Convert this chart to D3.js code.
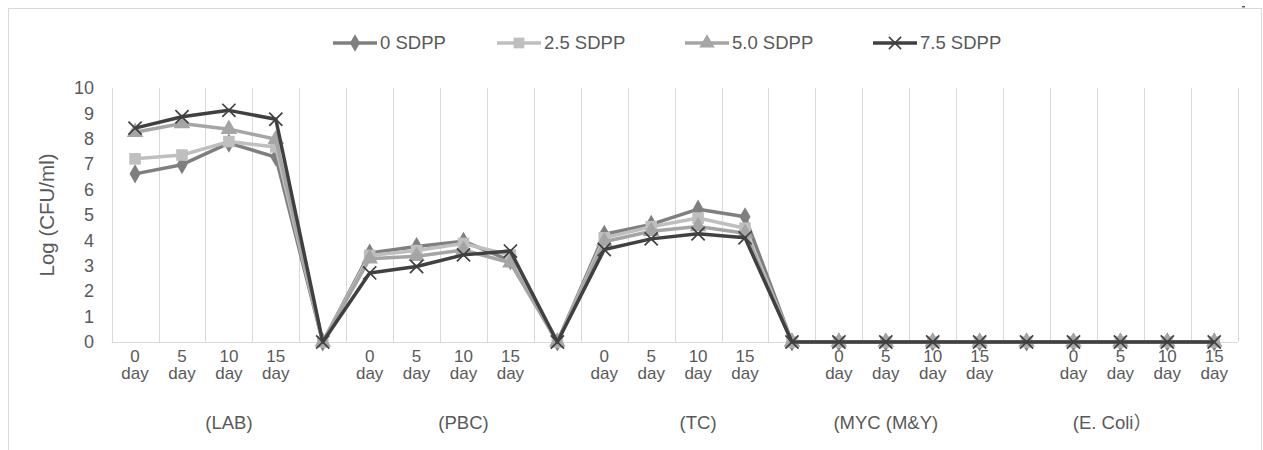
<!DOCTYPE html>
<html><head><meta charset="utf-8">
<script src="https://cdn.jsdelivr.net/npm/d3@7"></script>
<style>
html,body{margin:0;padding:0;background:#fff;}
text{font-family:"Liberation Sans",Arial,"Noto Sans CJK SC",sans-serif;fill:#595959;}
</style></head>
<body><svg id="c" width="1263" height="450"></svg>
<script>
// ---- data ----
const categories = ["0 day","5 day","10 day","15 day","",
                    "0 day","5 day","10 day","15 day","",
                    "0 day","5 day","10 day","15 day","",
                    "0 day","5 day","10 day","15 day","",
                    "0 day","5 day","10 day","15 day"];
const groupLabels = ["(LAB)","(PBC)","(TC)","(MYC (M&Y)","(E. Coli\uFF09"];
const groupFirstCat = [0,5,10,14,19];
const groupLastCat  = [4,9,14,18,23];
const seriesNames = ["0 SDPP","2.5 SDPP","5.0 SDPP","7.5 SDPP"];
const sdpp0  = [6.62,6.98,7.83,7.28,0, 3.50,3.76,3.97,3.20,0, 4.24,4.63,5.23,4.93,0, 0,0,0,0,0, 0,0,0,0];
const sdpp25 = [7.21,7.36,7.89,7.68,0, 3.41,3.60,3.88,3.42,0, 4.10,4.54,4.88,4.48,0, 0,0,0,0,0, 0,0,0,0];
const sdpp50 = [8.26,8.60,8.38,7.98,0, 3.28,3.38,3.62,3.12,0, 3.95,4.36,4.55,4.28,0, 0,0,0,0,0, 0,0,0,0];
const sdpp75 = [8.42,8.87,9.12,8.77,0, 2.72,2.97,3.43,3.58,0, 3.64,4.06,4.26,4.10,0, 0,0,0,0,0, 0,0,0,0];
const yTicks = [0,1,2,3,4,5,6,7,8,9,10];
const yTitle = "Log (CFU/ml)";

// ---- drawing ----
const svg = d3.select("#c");
const colors = ["#7f7f7f","#bfbfbf","#a5a5a5","#404040"];
const symbols = [d3.symbolDiamond, d3.symbolSquare, d3.symbolTriangle, d3.symbolX];
const symSizes = [105, 135, 120, 115];
const allSeries = [sdpp0, sdpp25, sdpp50, sdpp75];

// outer border
svg.append("rect").attr("x",8.5).attr("y",8.5).attr("width",1253).attr("height",460)
  .attr("fill","none").attr("stroke","#d9d9d9").attr("stroke-width",1);
svg.append("rect").attr("x",1242).attr("y",6).attr("width",3).attr("height",1.5).attr("fill","#595959");

const x = d3.scaleBand().domain(d3.range(categories.length)).range([111.6, 1237.7]).padding(0);
const y = d3.scaleLinear().domain([0,10]).range([342, 88]);
const cx = i => x(i) + x.bandwidth()/2;

// vertical gridlines at category boundaries
const g = svg.append("g");
g.selectAll("line.vg").data(d3.range(categories.length+1)).join("line")
  .attr("x1", i => Math.round(i < categories.length ? x(i) : x.range()[1]) + 0.5)
  .attr("x2", i => Math.round(i < categories.length ? x(i) : x.range()[1]) + 0.5)
  .attr("y1", y(10)).attr("y2", y(0))
  .attr("stroke","#d9d9d9").attr("stroke-width",1);
// baseline
g.append("line").attr("x1",x.range()[0]).attr("x2",x.range()[1])
  .attr("y1",y(0)+0.5).attr("y2",y(0)+0.5).attr("stroke","#d9d9d9");

// y axis labels
const yAxis = d3.axisLeft(y).tickValues(yTicks).tickSize(0).tickPadding(0);
const ya = svg.append("g").attr("transform","translate(94,0)").call(yAxis);
ya.select(".domain").remove();
ya.selectAll("text").style("font-size","18px").attr("fill","#595959")
  .style("font-family",'"Liberation Sans",Arial,sans-serif');

svg.append("text").attr("transform",`translate(54,${(y(0)+y(10))/2}) rotate(-90)`)
  .attr("text-anchor","middle").style("font-size","20.5px").text(yTitle);

// category labels
const cl = svg.append("g");
categories.forEach((c,i) => {
  if (!c) return;
  const parts = c.split(" ");
  const t = cl.append("text").attr("text-anchor","middle").style("font-size","17px");
  t.append("tspan").attr("x",cx(i)).attr("y",362).text(parts[0]);
  t.append("tspan").attr("x",cx(i)).attr("y",379).text(parts[1]);
});
// group labels
groupLabels.forEach((gl,k) => {
  const xc = (x(groupFirstCat[k]) + x(groupLastCat[k]) + x.bandwidth())/2;
  svg.append("text").attr("x",xc).attr("y",429).attr("text-anchor","middle")
    .attr("dx", k === 4 ? -8 : 0)
    .style("font-size","18.5px").text(gl);
});

// lines and markers
const line = d3.line().x((d,i)=>cx(i)).y(d=>y(d));
allSeries.forEach((s,k) => {
  svg.append("path").datum(s).attr("d",line).attr("fill","none")
    .attr("stroke",colors[k]).attr("stroke-width",3.5).attr("stroke-linejoin","round");
  const sym = d3.symbol().type(symbols[k]).size(symSizes[k]);
  svg.append("g").selectAll("path").data(s).join("path")
    .attr("transform",(d,i)=>`translate(${cx(i)},${y(d)})`)
    .attr("d",sym)
    .attr("fill", k===3 ? "none" : colors[k])
    .attr("stroke", k===3 ? colors[k] : "none")
    .attr("stroke-width", k===3 ? 1.7 : 0);
});

// legend
const legX = [333, 497, 685, 873];
seriesNames.forEach((n,k) => {
  const lg = svg.append("g").attr("transform",`translate(${legX[k]},43)`);
  lg.append("line").attr("x1",0).attr("x2",44).attr("y1",0).attr("y2",0)
    .attr("stroke",colors[k]).attr("stroke-width",3.5);
  lg.append("path").attr("transform","translate(22,0)")
    .attr("d", d3.symbol().type(symbols[k]).size(symSizes[k]*0.85)())
    .attr("fill", k===3 ? "none" : colors[k])
    .attr("stroke", k===3 ? colors[k] : "none").attr("stroke-width",1.6);
  lg.append("text").attr("x",47).attr("y",0).attr("dy","0.35em")
    .style("font-size","18.5px").text(n);
});
</script></body></html>
